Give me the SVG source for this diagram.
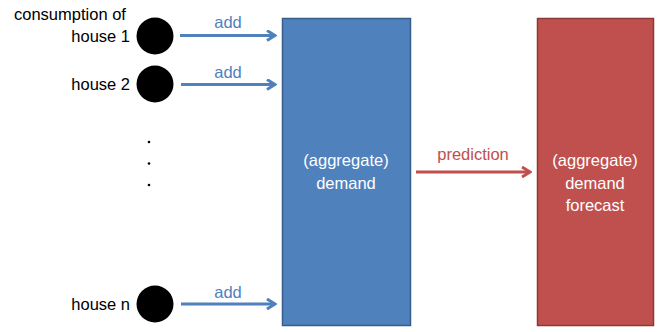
<svg xmlns="http://www.w3.org/2000/svg" width="668" height="332" viewBox="0 0 668 332">
<defs>
<style>
text{font-family:"Liberation Sans",Arial,sans-serif;font-size:16.5px}
.lbl{fill:#000}
.blue{fill:#4F81BD}
.red{fill:#C0504D}
.w{fill:#fff;text-anchor:middle}
.ab{stroke:#4F81BD;stroke-width:3;fill:none}
.ar{stroke:#C0504D;stroke-width:3;fill:none}
</style>
<marker id="hb" markerWidth="12" markerHeight="12" refX="10" refY="6" orient="auto" markerUnits="userSpaceOnUse"><path d="M2,1 L10,6 L2,11" fill="none" stroke="#4F81BD" stroke-width="3"/></marker>
<marker id="hr" markerWidth="12" markerHeight="12" refX="10" refY="6" orient="auto" markerUnits="userSpaceOnUse"><path d="M2,1 L10,6 L2,11" fill="none" stroke="#C0504D" stroke-width="3"/></marker>
</defs>
<rect width="668" height="332" fill="#fff"/>
<g id="title"><text class="lbl" x="14" y="20">consumption of</text></g>
<g id="house1"><circle cx="155" cy="36" r="18.5" fill="#000"/><text class="lbl" x="130" y="42" text-anchor="end">house 1</text></g>
<g id="house2"><circle cx="155" cy="84" r="18.5" fill="#000"/><text class="lbl" x="130" y="90" text-anchor="end">house 2</text></g>
<g id="dots"><circle cx="149" cy="142" r="1.3" fill="#000"/><circle cx="149" cy="163.5" r="1.3" fill="#000"/><circle cx="149" cy="185" r="1.3" fill="#000"/></g>
<g id="housen"><circle cx="155" cy="304" r="18.5" fill="#000"/><text class="lbl" x="130" y="310" text-anchor="end">house n</text></g>
<g id="demand"><rect x="282.5" y="18.5" width="128" height="307" fill="#4F81BD" stroke="#385D8A" stroke-width="1.5"/><text class="w" x="346" y="166">(aggregate)</text><text class="w" x="346" y="189">demand</text></g>
<g id="forecast"><rect x="537.5" y="18.5" width="116" height="307" fill="#C0504D" stroke="#8C3836" stroke-width="1.5"/><text class="w" x="595" y="166">(aggregate)</text><text class="w" x="595" y="189">demand</text><text class="w" x="595" y="211">forecast</text></g>
<g id="connectors">
<line class="ab" x1="180" y1="35.5" x2="275" y2="35.5" marker-end="url(#hb)"/>
<text class="blue" x="228" y="28" text-anchor="middle">add</text>
<line class="ab" x1="181" y1="84.5" x2="275" y2="84.5" marker-end="url(#hb)"/>
<text class="blue" x="228" y="78" text-anchor="middle">add</text>
<line class="ab" x1="181" y1="304" x2="275" y2="304" marker-end="url(#hb)"/>
<text class="blue" x="228" y="298" text-anchor="middle">add</text>
<line class="ar" x1="416" y1="172" x2="530" y2="172" marker-end="url(#hr)"/>
<text class="red" x="473" y="160" text-anchor="middle">prediction</text>
</g>
</svg>
